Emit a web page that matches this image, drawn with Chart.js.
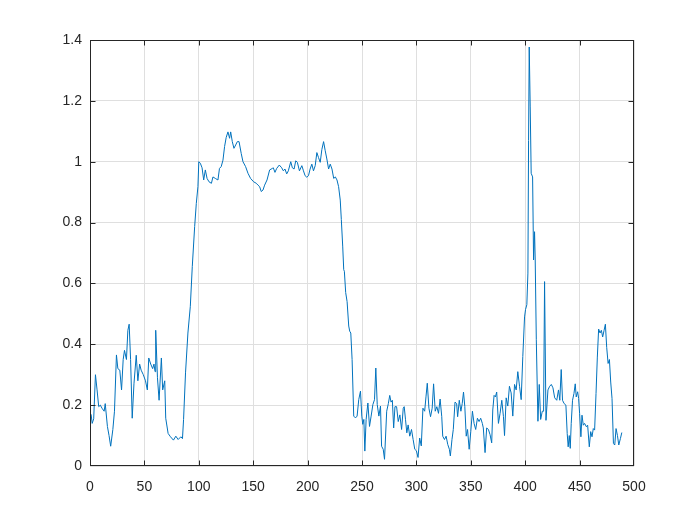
<!DOCTYPE html>
<html>
<head>
<meta charset="utf-8">
<script src="https://cdn.jsdelivr.net/npm/chart.js@4/dist/chart.umd.min.js"></script>
<style>
  body { margin: 0; background: #ffffff; }
  canvas { display: block; }
</style>
</head>
<body>
<canvas id="signal-chart" width="700" height="525"></canvas>
<script>
// Sample positions and values, segment by segment
let sampleX = [
    1, 2, 3.4, 5, 6.5, 8, 9.5, 11, 13, 14, 16, 17.5, 19, 21, 22.5, 24.3, 25.6, 27.4, 29, 30.5,
    31.7, 33.5, 34.8, 36, 37.3, 38.8, 40.4, 42.5, 44, 45.6, 47, 49, 51, 52.7, 54, 55.8, 57.6, 58.8, 59.8, 60.4,
    62, 63.5, 65.6, 66.8, 68.7, 69.6, 71.8, 74, 76.7, 78.9, 81, 83.5, 85,
    86, 87.8, 90, 92.2, 94, 96.2, 97.7, 99.2, 100, 101.4, 103, 104.5, 106, 107.6, 109.4, 111.6, 113, 115.2, 117.6, 119,
    120.6, 122.2, 123.7, 125.2, 126.8, 128.3, 129.3, 130.8, 132.3, 133.9, 135.4, 137, 139, 140.6, 143, 145.2, 147.6, 150.4, 152.9, 154.4,
    155.9, 157.4, 159, 160.5, 162.7, 165.1, 167.6,
    168.5, 170, 171.6, 174, 176.2, 177.7, 179.2, 180.8, 182.3, 184.5, 186, 187.6, 189.1, 190.6, 192.5, 194.7, 196.2, 197.7, 199.3, 200.8,
    202.3, 203.9, 205.4, 207, 208.5, 210, 211.6, 213.1, 214.7, 216.2, 217.7, 219.3, 220.8,
    222.4, 224, 225.5, 227, 228.5, 230, 231, 232.3, 233.2, 233.8, 235, 236.3, 237.8, 238.7, 239.7, 240.9, 242.4, 244, 245.5, 247,
    248.6, 249.8, 250.7, 251.7, 252.6, 253.8, 255.4, 256.9, 258.4, 260, 261.5, 262.7, 264, 265.5, 267, 268, 269.5, 270.7,
    272.7, 274.2, 275.5, 276.7, 277.9, 279.1, 280.3, 281.8, 283.3, 284.8, 286.4, 287.9, 288.8, 290, 291.2, 292.4, 293.9, 295.5, 297, 298.5,
    300, 301.5, 303, 304.5, 306, 307.6, 308.8, 310, 311.5, 313, 314.5, 315.8, 317.3, 318.8, 320.3, 321.8, 323.3, 324.2, 325.8, 327.3,
    328.8, 330.3, 331.2, 332.7, 333.9, 335.5, 337, 337.9, 339.4, 340.9, 342.1, 343.3, 344.5, 345.8, 347, 348.5, 350, 351.5, 353, 354.5,
    356.1, 357.6, 359.1,
    360.6, 361.5, 363.1, 364.6, 366.2, 367.7, 369.2, 370.2, 371.4, 372.6, 373.8, 375.4, 376.9, 378.5, 380,
    381, 382.5, 384, 385.5, 387.1, 388.6, 390.2, 391.7, 393.2, 394.8, 396.3, 397.8, 399.4, 400.3, 401.5, 402.5, 403.1, 403.7, 404.6, 405.5,
    406.8, 407.7, 408.6, 409.2, 410.2, 411.7, 412.9, 414.2, 415.7, 416.9, 417.8, 419.1, 420.9, 422.5, 424, 425.5, 427.1,
    429, 430.6, 431.8, 433.1, 434.3, 435.8, 437.4, 438.6, 439.5, 440.5, 441.4, 442.3, 443.5, 444.8, 446, 446.9, 448.2, 449.1, 450, 451.2,
    452.2, 453.4, 454.6, 456.2, 457.4, 458.9, 460.2, 461.4, 462.6, 463.8, 465.1, 466.3, 467.5, 468.8, 470, 471.2, 472.5, 473.7, 474.9, 476.2,
    477.4, 478.6, 479.8, 481.1, 482.3, 483.5, 484.8, 486, 487.5, 488.8
]

let signal = [
    0.17, 0.14, 0.155, 0.30, 0.25, 0.195, 0.2, 0.19, 0.18, 0.205, 0.13, 0.10, 0.065, 0.12, 0.18, 0.365, 0.32, 0.315, 0.25, 0.35,
    0.38, 0.35, 0.446, 0.466, 0.35, 0.157, 0.27, 0.364, 0.28, 0.335, 0.315, 0.30, 0.28, 0.25, 0.355, 0.335, 0.32, 0.335, 0.31, 0.446,
    0.29, 0.216, 0.355, 0.25, 0.28, 0.157, 0.107, 0.096, 0.085, 0.098, 0.087, 0.096, 0.09,
    0.153, 0.306, 0.437, 0.525, 0.655, 0.787, 0.863, 0.918, 1.0, 0.995, 0.98, 0.94, 0.973, 0.945, 0.934, 0.929, 0.95, 0.945, 0.94, 0.978,
    0.984, 1.005, 1.05, 1.08, 1.098, 1.077, 1.098, 1.066, 1.044, 1.055, 1.066, 1.066, 1.027, 1.0, 0.984, 0.962, 0.945, 0.934, 0.929, 0.923,
    0.918, 0.902, 0.907, 0.923, 0.94, 0.973, 0.978,
    0.98, 0.965, 0.978, 0.989, 0.98, 0.97, 0.976, 0.96, 0.97, 1.0, 0.98, 0.976, 1.003, 0.998, 0.97, 0.987, 0.97, 0.954, 0.949, 0.954,
    0.976, 0.992, 0.97, 0.987, 1.03, 1.014, 0.998, 1.04, 1.066, 1.036, 1.009, 0.976, 0.992,
    0.976, 0.945, 0.95, 0.94, 0.918, 0.874, 0.81, 0.72, 0.645, 0.64, 0.57, 0.54, 0.46, 0.443, 0.437, 0.35, 0.164, 0.158, 0.164, 0.218,
    0.246, 0.164, 0.137, 0.153, 0.049, 0.153, 0.207, 0.13, 0.164, 0.202, 0.218, 0.322, 0.202, 0.164, 0.197, 0.065, 0.055, 0.022,
    0.18, 0.205, 0.232, 0.21, 0.216, 0.125, 0.195, 0.195, 0.146, 0.168, 0.12, 0.19, 0.195, 0.152, 0.109, 0.135, 0.098, 0.12, 0.087, 0.055,
    0.05, 0.028, 0.092, 0.066, 0.19, 0.18, 0.227, 0.272, 0.19, 0.162, 0.19, 0.27, 0.18, 0.195, 0.173, 0.22, 0.162, 0.098, 0.087, 0.098,
    0.071, 0.055, 0.033, 0.087, 0.12, 0.21, 0.205, 0.162, 0.216, 0.18, 0.205, 0.243, 0.195, 0.098, 0.12, 0.055, 0.114, 0.18, 0.14, 0.12,
    0.157, 0.146, 0.157,
    0.14, 0.125, 0.044, 0.125, 0.12, 0.103, 0.076, 0.184, 0.232, 0.227, 0.243, 0.14, 0.173, 0.216, 0.162,
    0.1, 0.224, 0.197, 0.262, 0.24, 0.164, 0.268, 0.25, 0.31, 0.262, 0.218, 0.36, 0.49, 0.514, 0.53, 0.634, 1.07, 1.377, 1.18, 0.962,
    0.95, 0.677, 0.77, 0.677, 0.415, 0.147, 0.268, 0.153, 0.18, 0.18, 0.606, 0.15, 0.25, 0.262, 0.268, 0.257, 0.224,
    0.216, 0.25, 0.216, 0.317, 0.216, 0.205, 0.2, 0.107, 0.063, 0.1, 0.058, 0.14, 0.216, 0.238, 0.27, 0.227, 0.244, 0.222, 0.173, 0.096,
    0.167, 0.134, 0.14, 0.129, 0.134, 0.063, 0.113, 0.096, 0.123, 0.118, 0.238, 0.358, 0.45, 0.437, 0.446, 0.424, 0.446, 0.466, 0.39, 0.337,
    0.35, 0.276, 0.222, 0.074, 0.069, 0.123, 0.1, 0.069, 0.09, 0.11
]

// Tick positions and labels
let xTicks = [0, 50, 100, 150, 200, 250, 300, 350, 400, 450, 500]
let xTickLabels = ['0', '50', '100', '150', '200', '250', '300', '350', '400', '450', '500']
let yTicks = [0, 0.2, 0.4, 0.6, 0.8, 1, 1.2, 1.4]
let yTickLabels = ['0', '0.2', '0.4', '0.6', '0.8', '1', '1.2', '1.4']

let axisColor = '#262626'
let gridColor = '#dfdfdf'
let labelFont = { family: '"Liberation Sans", Arial, Helvetica, sans-serif', size: 14 }

// Pair the samples up for the linear x scale
let points = []
let count = Math.min(sampleX.length, signal.length)
for (let i = 0; i < count; i++) {
    points.push({ x: sampleX[i], y: signal[i] })
}

// Draws the box round the axes and the short inward ticks on all four sides
let boxPlugin = {
    id: 'axesBox',
    afterDraw(chart) {
        let ctx = chart.ctx
        let area = chart.chartArea
        let xScale = chart.scales.x
        let yScale = chart.scales.y
        let left = Math.floor(area.left) + 0.5
        let right = Math.ceil(area.right) - 0.5
        let top = Math.floor(area.top) + 0.5
        let bottom = Math.ceil(area.bottom) - 0.5
        let tickLen = 5

        ctx.save()
        ctx.strokeStyle = axisColor
        ctx.lineWidth = 1
        ctx.beginPath()
        xTicks.forEach(function(v) {
            let px = Math.round(xScale.getPixelForValue(v)) + 0.5
            px = Math.min(Math.max(px, left), right)
            ctx.moveTo(px, bottom)
            ctx.lineTo(px, bottom - tickLen)
            ctx.moveTo(px, top)
            ctx.lineTo(px, top + tickLen)
        })
        yTicks.forEach(function(v) {
            let py = Math.round(yScale.getPixelForValue(v)) + 0.5
            py = Math.min(Math.max(py, top), bottom)
            ctx.moveTo(left, py)
            ctx.lineTo(left + tickLen, py)
            ctx.moveTo(right, py)
            ctx.lineTo(right - tickLen, py)
        })
        ctx.stroke()
        ctx.strokeRect(left, top, right - left, bottom - top)
        ctx.restore()
    }
}

let canvas = document.querySelector('#signal-chart')
let context = canvas.getContext('2d')

let signalChart = new Chart(context, {
    type: 'line',
    data: {
        datasets: [
            {
                data: points,
                borderColor: '#0072BD',
                borderWidth: 1,
                pointRadius: 0,
                tension: 0,
                fill: false
            }
        ]
    },
    options: {
        responsive: false,
        animation: false,
        plugins: {
            legend: { display: false },
            tooltip: { enabled: false }
        },
        layout: {
            padding: { top: 40, right: 66, left: 0, bottom: 0 }
        },
        scales: {
            x: {
                type: 'linear',
                min: 0,
                max: 500,
                afterBuildTicks: function(scale) {
                    scale.ticks = xTicks.map(v => ({ value: v }))
                },
                afterFit: function(scale) {
                    scale.height = 59
                },
                grid: { color: gridColor, drawTicks: false },
                border: { display: false },
                ticks: {
                    color: axisColor,
                    font: labelFont,
                    padding: 13,
                    maxRotation: 0,
                    callback: (value, index) => xTickLabels[index]
                }
            },
            y: {
                type: 'linear',
                min: 0,
                max: 1.4,
                afterBuildTicks: function(scale) {
                    scale.ticks = yTicks.map(v => ({ value: v }))
                },
                afterFit: function(scale) {
                    scale.width = 90
                },
                grid: { color: gridColor, drawTicks: false },
                border: { display: false },
                ticks: {
                    color: axisColor,
                    font: labelFont,
                    padding: 8,
                    callback: (value, index) => yTickLabels[index]
                }
            }
        }
    },
    plugins: [boxPlugin]
})
</script>
</body>
</html>
